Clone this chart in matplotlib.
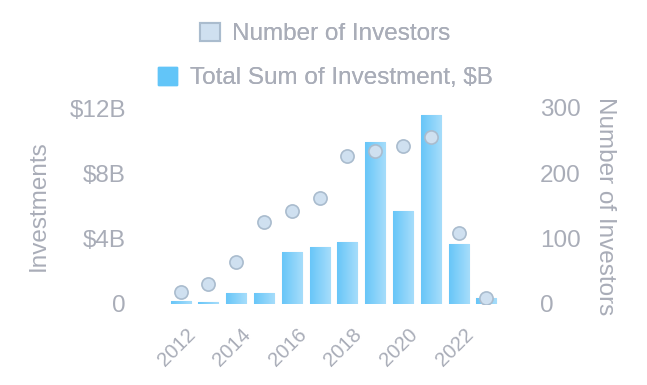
import numpy as np
import matplotlib
matplotlib.use('Agg')
import matplotlib.pyplot as plt
import matplotlib.transforms as mtransforms
from matplotlib.patches import Patch
from matplotlib.colors import LinearSegmentedColormap

# data
years = [2012, 2013, 2014, 2015, 2016, 2017, 2018, 2019, 2020, 2021, 2022, 2023]
investment_b = [0.2, 0.1, 0.65, 0.67, 3.2, 3.5, 3.8, 9.9, 5.7, 11.6, 3.65, 0.37]
investors = [18, 30, 65, 125, 143, 162, 227, 234, 242, 255, 109, 9]
left_ticks = [0, 4, 8, 12]
left_labels = ['0', '$4B', '$8B', '$12B']
right_ticks = [0, 100, 200, 300]
year_ticks = [2012, 2014, 2016, 2018, 2020, 2022]

grey = '#a9adb8'
plt.rcParams['font.family'] = ['Liberation Sans', 'DejaVu Sans']

W, H = 647, 385
fig = plt.figure(figsize=(W / 100, H / 100), dpi=100)
ax = fig.add_axes([160.5 / W, 81 / H, 346 / W, 196 / H])
ax2 = ax.twinx()

# bars with a left-to-right gradient
bars = ax.bar(years, investment_b, width=0.72, color='#7fcff9',
              edgecolor='#c3d3e2', linewidth=0.8, zorder=2)
cmap = LinearSegmentedColormap.from_list('bar', ['#68c6f8', '#a6ddfb'])
grad = np.linspace(0, 1, 64).reshape(1, -1)
for b in bars:
    x0, y0 = b.get_x(), b.get_y()
    im = ax.imshow(grad, cmap=cmap, aspect='auto', zorder=2.5,
                   extent=[x0, x0 + b.get_width(), y0, y0 + b.get_height()])
    im.set_clip_path(b)

ax.set_xlim(2011.28, 2023.72)
ax.set_ylim(0, 12)
ax.set_yticks(left_ticks)
ax.set_yticklabels(left_labels)
ax.set_xticks(year_ticks)
ax.set_xticklabels([str(y) for y in year_ticks], rotation=45, ha='right',
                   rotation_mode='anchor')
ax.tick_params(axis='y', length=0, pad=25, labelsize=17.5, labelcolor=grey)
ax.tick_params(axis='x', length=0, pad=15, labelsize=14.5, labelcolor=grey)
shift = mtransforms.ScaledTranslation(5 / 100, 0, fig.dpi_scale_trans)
for t in ax.get_xticklabels():
    t.set_transform(t.get_transform() + shift)
ax.set_ylabel('Investments', fontsize=17.5, color=grey, va='center')
ax.yaxis.set_label_coords((39 - 160.5) / 346, 0.5)

ax2.scatter(years, investors, s=90, facecolor='#cfe0f0', edgecolor='#aabcce',
            linewidth=1.2, zorder=3)
ax2.set_ylim(0, 300)
ax2.set_yticks(right_ticks)
ax2.tick_params(axis='y', length=0, pad=24, labelsize=17.5, labelcolor=grey)
ax2.set_ylabel('Number of Investors', fontsize=17.5, color=grey, rotation=-90,
               va='center')
ax2.yaxis.set_label_coords((605 - 160.5) / 346, 0.5)

for a in (ax, ax2):
    for s in a.spines.values():
        s.set_visible(False)

# legend, two centred rows
h1 = Patch(facecolor='#cfe0f0', edgecolor='#aabcce', linewidth=1.5)
h2 = Patch(facecolor='#62c5f8', edgecolor='#62c5f8')
for h, lab, yy in [(h1, 'Number of Investors', 34), (h2, 'Total Sum of Investment, $B', 78)]:
    leg = fig.legend([h], [lab], loc='center', bbox_to_anchor=(325 / W, 1 - yy / H),
                     frameon=False, fontsize=17.5, labelcolor=grey,
                     handlelength=0.82, handleheight=0.82, handletextpad=0.5)
    fig.add_artist(leg)

fig.savefig('out.png', dpi=100)
